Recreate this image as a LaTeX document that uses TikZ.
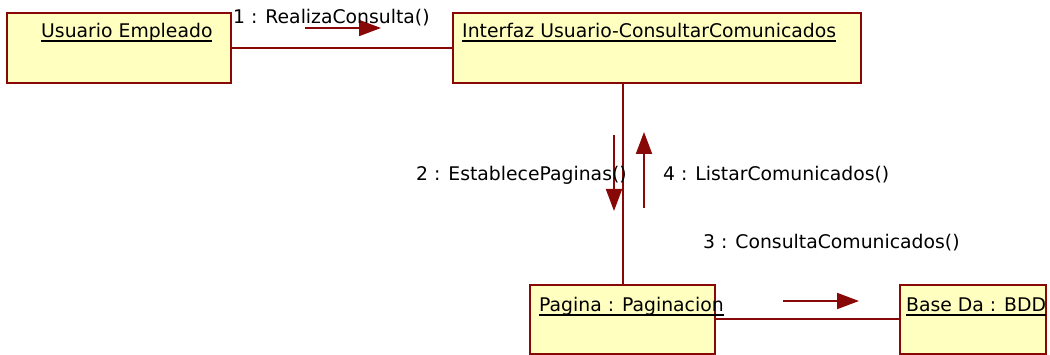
\documentclass[tikz,border=0pt]{standalone}
\usepackage{fontspec}
\setmainfont{DejaVu Sans}
\usetikzlibrary{arrows.meta}
\definecolor{bord}{RGB}{136,8,8}
\definecolor{boxfill}{RGB}{255,255,192}
\newcommand\ulx[1]{\setbox0\hbox{#1}\rlap{\rule[-4pt]{\wd0}{1.7pt}}\box0}
\tikzset{
  objbox/.style={draw=bord, line width=2pt, fill=boxfill, inner sep=0pt, anchor=north west},
  txt/.style={inner sep=0pt, anchor=base west, font=\fontsize{18.8pt}{22pt}\selectfont},
  link/.style={draw=bord, line width=2pt},
  msg/.style={draw=bord, line width=2pt, -{Triangle[length=22pt,width=16pt]}, bord}
}
\begin{document}
\begin{tikzpicture}[x=1pt,y=-1pt]
\useasboundingbox (0,0) rectangle (1050,355);
% boxes
\node[objbox, minimum width=224pt, minimum height=70pt] (ue) at (6,12) {};
\node[objbox, minimum width=408pt, minimum height=70pt] (ui) at (452,12) {};
\node[objbox, minimum width=185pt, minimum height=69pt] (pg) at (529,284) {};
\node[objbox, minimum width=146pt, minimum height=69pt] (bd) at (899,284) {};
% box texts
\node[txt] (tue) at (41,38) {\ulx{Usuario Empleado}};
\node[txt] (tui) at (462,38) {\ulx{Interfaz Usuario-ConsultarComunicados}};
\node[txt] (tpg) at (539,312) {\ulx{Pagina : Paginacion}};
\node[txt] (tbd) at (906,312) {\ulx{Base Da : BDD}};
% links
\draw[link] (ue.east) -- (ui.west);
\draw[link] (ui.south -| pg.north) -- (pg.north);
\draw[link] (pg.east) -- (bd.west);
% message arrows
\coordinate (a1s) at (305,28); \coordinate (a1e) at (381,28);
\coordinate (a2s) at (614,135); \coordinate (a2e) at (614,211);
\coordinate (a4s) at (644,208); \coordinate (a4e) at (644,132);
\coordinate (a3s) at (783,301); \coordinate (a3e) at (859,301);
\draw[msg] (a1s) -- (a1e);
\draw[msg] (a2s) -- (a2e);
\draw[msg] (a4s) -- (a4e);
\draw[msg] (a3s) -- (a3e);
% message labels
\node[txt] (l1) at (233,24) {1 : RealizaConsulta()};
\node[txt] (l2) at (416,181) {2 : EstablecePaginas()};
\node[txt] (l4) at (663,181) {4 : ListarComunicados()};
\node[txt] (l3) at (703,249) {3 : ConsultaComunicados()};
\end{tikzpicture}
\end{document}
